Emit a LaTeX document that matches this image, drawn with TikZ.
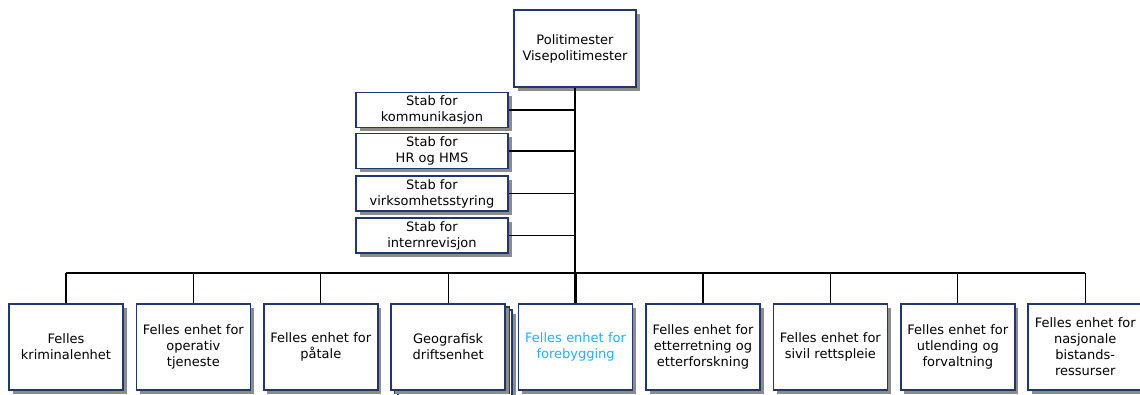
\documentclass[tikz,border=0pt]{standalone}
\usepackage{fontspec}
\setmainfont{DejaVu Sans}
\usetikzlibrary{positioning, shadows}

\definecolor{boxline}{RGB}{31,56,110}
\definecolor{shade}{RGB}{140,140,140}
\definecolor{lightblue}{RGB}{40,175,255}

\tikzset{
	unit/.style={draw=boxline, line width=1.6pt, fill=white, align=center,
		inner sep=0pt, font=\fontsize{13}{16}\selectfont,
		drop shadow={shadow xshift=3.5pt, shadow yshift=-3.5pt, fill=shade, opacity=1}},
	topbox/.style={unit, minimum width=122pt, minimum height=77pt},
	stabbox/.style={unit, minimum width=152pt, minimum height=35pt},
	enhet/.style={unit, minimum width=114pt, minimum height=86pt, text width=112pt},
	link/.style={line width=1.3pt}
}

\begin{document}
\begin{tikzpicture}[x=1pt, y=-1pt]
	\useasboundingbox (0,0) rectangle (1140,394);
	% top
	\node[topbox] (top) at (575,48.5) {Politimester\\Visepolitimester};
	% staff units
	\node[stabbox] (s1) at (432,110) {Stab for\\kommunikasjon};
	\node[stabbox] (s2) at (432,151) {Stab for\\HR og HMS};
	\node[stabbox] (s3) at (432,193.5) {Stab for\\virksomhetsstyring};
	\node[stabbox] (s4) at (432,235.5) {Stab for\\internrevisjon};
	% units
	\draw[draw=boxline, line width=1.6pt, fill=white, drop shadow={shadow xshift=3.5pt, shadow yshift=-3.5pt, fill=shade, opacity=1}]
		(398,310) rectangle (512,396);
	\draw[draw=boxline, line width=1.6pt, fill=white] (395,307) rectangle (509,393);
	\node[enhet] (b1) at (66,347) {Felles\\kriminalenhet};
	\node[enhet] (b2) at (193.4,347) {Felles enhet for\\operativ\\tjeneste};
	\node[enhet] (b3) at (320.8,347) {Felles enhet for\\påtale};
	\node[enhet] (b4) at (448.2,347) {Geografisk\\driftsenhet};
	\node[enhet, text=lightblue] (b5) at (575.6,347) {Felles enhet for\\forebygging};
	\node[enhet] (b6) at (703,347) {Felles enhet for\\etterretning og\\etterforskning};
	\node[enhet] (b7) at (830.4,347) {Felles enhet for\\sivil rettspleie};
	\node[enhet] (b8) at (957.8,347) {Felles enhet for\\utlending og\\forvaltning};
	\node[enhet] (b9) at (1085.2,347) {Felles enhet for\\nasjonale\\bistands-\\ressurser};
	% lines
	\coordinate (bus) at (575,273);
	\draw[link] (top.south) -- (bus);
	\foreach \i in {1,...,4}
		\draw[link] (s\i.east) -- (s\i.east -| top.south);
	\draw[link] (b1.north |- bus) -- (b9.north |- bus);
	\foreach \i in {1,2,3,4,6,7,8,9}
		\draw[link] (b\i.north) -- (b\i.north |- bus);
	\draw[line width=2.5pt, shade] (b5.north) -- (b5.north |- bus);
\end{tikzpicture}
\end{document}
